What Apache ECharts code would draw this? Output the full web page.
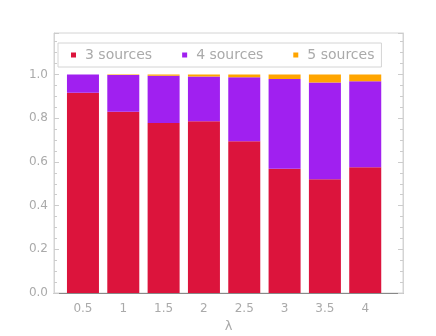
<!DOCTYPE html>
<html>
<head>
<meta charset="utf-8">
<script src="https://cdn.jsdelivr.net/npm/echarts@6/dist/echarts.min.js"></script>
<style>html,body{margin:0;padding:0;background:#fff}#c{width:436px;height:336px}</style>
</head>
<body>
<div id="c"></div>
<script>
const lambdas = ['0.5', '1', '1.5', '2', '2.5', '3', '3.5', '4'];
const src3 = [0.916, 0.829, 0.778, 0.786, 0.694, 0.569, 0.521, 0.575];
const src4 = [0.084, 0.169, 0.216, 0.205, 0.294, 0.411, 0.442, 0.394];
const src5 = [0.000, 0.002, 0.006, 0.009, 0.012, 0.020, 0.037, 0.031];

const font = 'DejaVu Sans';
const gridTop = 33, gridBottom = 43;
const yMax = 1.19;

const chart = echarts.init(document.getElementById('c'), null, {renderer: 'canvas'});
chart.setOption({
  animation: false,
  backgroundColor: '#fff',
  grid: [
    {left: 54, right: 33, top: gridTop, bottom: gridBottom, outerBoundsMode: 'none', containLabel: false, show: true, borderColor: '#d4d4d4', borderWidth: 1, backgroundColor: 'transparent'},
    {left: 62.8, right: 50.6, top: gridTop, bottom: gridBottom, outerBoundsMode: 'none', containLabel: false}
  ],
  legend: {
    left: 58, top: 43,
    orient: 'horizontal',
    icon: 'rect', itemWidth: 5, itemHeight: 5, itemGap: 30,
    padding: [5, 7, 5, 13],
    borderColor: '#d4d4d4', borderWidth: 1,
    textStyle: {color: '#aaaaaa', fontFamily: font, fontSize: 14, padding: [0, 0, 0, 4]},
    data: ['3 sources', '4 sources', '5 sources']
  },
  xAxis: [{
    gridIndex: 0, type: 'value', min: 0, max: 1,
    name: 'λ', nameLocation: 'middle', nameGap: 27,
    nameTextStyle: {color: '#aaaaaa', fontFamily: font, fontSize: 13},
    splitLine: {show: false},
    axisLine: {show: true, lineStyle: {color: '#888888', width: 1}},
    axisTick: {show: false},
    axisLabel: {show: false}
  }, {
    gridIndex: 1, type: 'category', data: lambdas, boundaryGap: true,
    splitLine: {show: false},
    axisLine: {show: false},
    axisTick: {show: true, inside: true, length: 5, alignWithLabel: true, lineStyle: {color: '#777777'}},
    axisLabel: {color: '#aaaaaa', fontFamily: font, fontSize: 12, margin: 10}
  }],
  yAxis: [{
    gridIndex: 0, type: 'value', min: 0, max: yMax, interval: 0.2, position: 'left',
    splitLine: {show: false},
    axisLine: {show: true, lineStyle: {color: '#d4d4d4'}},
    axisTick: {show: true, inside: true, length: 5, lineStyle: {color: '#cccccc'}},
    minorTick: {show: true, splitNumber: 4, length: 3, lineStyle: {color: '#cccccc'}},
    axisLabel: {color: '#aaaaaa', fontFamily: font, fontSize: 12, margin: 6, showMaxLabel: false, formatter: v => v.toFixed(1)}
  }, {
    gridIndex: 0, type: 'value', min: 0, max: yMax, interval: 0.2, position: 'right',
    splitLine: {show: false},
    axisLine: {show: true, lineStyle: {color: '#d4d4d4'}},
    axisTick: {show: true, inside: true, length: 5, lineStyle: {color: '#cccccc'}},
    minorTick: {show: true, splitNumber: 4, length: 3, lineStyle: {color: '#cccccc'}},
    axisLabel: {show: false}
  }, {
    gridIndex: 1, type: 'value', min: 0, max: yMax, show: false,
    splitLine: {show: false}
  }],
  series: [
    {name: '3 sources', type: 'bar', stack: 'a', xAxisIndex: 1, yAxisIndex: 2, barWidth: 32, data: src3, itemStyle: {color: '#DC143C'}},
    {name: '4 sources', type: 'bar', stack: 'a', xAxisIndex: 1, yAxisIndex: 2, barWidth: 32, data: src4, itemStyle: {color: '#A020F0'}},
    {name: '5 sources', type: 'bar', stack: 'a', xAxisIndex: 1, yAxisIndex: 2, barWidth: 32, data: src5, itemStyle: {color: '#FFA500'}}
  ]
});
</script>
</body>
</html>
